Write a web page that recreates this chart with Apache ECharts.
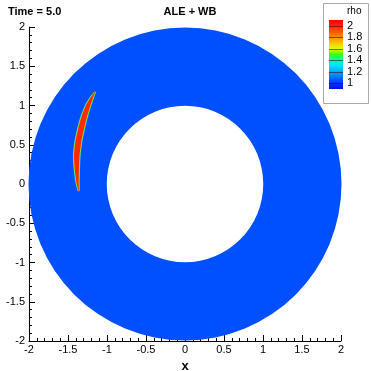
<!DOCTYPE html>
<html><head><meta charset="utf-8">
<script src="https://cdn.jsdelivr.net/npm/echarts@6/dist/echarts.min.js"></script>
<style>html,body{margin:0;padding:0;background:#fff}#c{width:371px;height:371px}</style>
</head><body><div id="c"></div>
<script>
// Domain: annulus [centerX, centerY, outerRadius, innerRadius]
const domain = [[0, 0, 2, 1]];
const domainColor = '#0050ff';
// Shock (density crescent) centreline and half-width
const shockX = [-1.154, -1.20, -1.240, -1.297, -1.342, -1.368, -1.387, -1.387, -1.378, -1.363];
const shockY = [1.172, 1.09, 1.006, 0.841, 0.662, 0.535, 0.369, 0.204, 0.025, -0.089];
const shockHW = [0.003, 0.018, 0.029, 0.036, 0.038, 0.038, 0.036, 0.028, 0.015, 0.003];
// Colour map of rho (value -> colour) and labelled contour levels
const cmapValues = [0.9, 1.0, 1.1, 1.2, 1.3, 1.4, 1.5, 1.6, 1.7, 1.8, 1.9, 2.0, 2.1];
const cmapColors = ['#0010e0', '#0034ff', '#0070ff', '#00a8ff', '#00e0ff', '#00ffb8', '#40ff10', '#d8ff00', '#ffc400', '#ff8c00', '#ff5400', '#ff2400', '#ff0000'];
const labelLevels = [1.0, 1.2, 1.4, 1.6, 1.8, 2.0];
const xTicks = [-2, 2, 0.5];
const yTicks = [-2, 2, 0.5];

const FONT = '"Liberation Sans", Arial, sans-serif';
const chart = echarts.init(document.getElementById('c'), null, {renderer: 'canvas'});

function shockPolygon(api, extra) {
  const left = [], right = [];
  for (let i = 0; i < shockX.length; i++) {
    const hw = shockHW[i] + extra * Math.min(1, shockHW[i] / 0.015 + 0.4);
    left.push(api.coord([shockX[i] - hw, shockY[i]]));
    right.push(api.coord([shockX[i] + hw, shockY[i]]));
  }
  return left.concat(right.reverse());
}

const vMin = cmapValues[0], vMax = cmapValues[cmapValues.length - 1];

const option = {
  animation: false,
  textStyle: {fontFamily: FONT},
  title: [
    {text: 'Time = 5.0', left: 3, top: 1, textStyle: {fontSize: 11, fontWeight: 'bold', fontFamily: FONT, color: '#000'}},
    {text: 'ALE + WB', left: 185, textAlign: 'center', top: 1, textStyle: {fontSize: 11, fontWeight: 'bold', fontFamily: FONT, color: '#000'}}
  ],
  grid: [
    {left: 29, top: 27, width: 312, height: 314, containLabel: false, outerBoundsMode: 'none'},
    {left: 329, top: 20, width: 14, height: 69, containLabel: false, outerBoundsMode: 'none'}
  ],
  xAxis: [
    {type: 'value', gridIndex: 0, min: xTicks[0], max: xTicks[1], interval: xTicks[2],
      name: 'x', nameLocation: 'middle', nameGap: 19,
      nameTextStyle: {fontSize: 13, fontWeight: 'bold', color: '#000', fontFamily: FONT},
      axisLine: {onZero: false, lineStyle: {color: '#000', width: 1}},
      axisTick: {inside: true, length: 6, lineStyle: {color: '#000'}},
      minorTick: {show: true, splitNumber: 5, length: 3, lineStyle: {color: '#000'}},
      axisLabel: {fontSize: 11, color: '#000', margin: 3, fontFamily: FONT},
      splitLine: {show: false}},
    {type: 'value', gridIndex: 1, min: 0, max: 1, show: false}
  ],
  yAxis: [
    {type: 'value', gridIndex: 0, min: yTicks[0], max: yTicks[1], interval: yTicks[2],
      name: 'y', nameLocation: 'middle', nameGap: 20, nameRotate: 90,
      nameTextStyle: {fontSize: 13, fontWeight: 'bold', color: '#000', fontFamily: FONT},
      axisLine: {onZero: false, lineStyle: {color: '#000', width: 1}},
      axisTick: {inside: true, length: 6, lineStyle: {color: '#000'}},
      minorTick: {show: true, splitNumber: 5, length: 3, lineStyle: {color: '#000'}},
      axisLabel: {fontSize: 11, color: '#000', margin: 4, fontFamily: FONT},
      splitLine: {show: false}},
    {type: 'value', gridIndex: 1, min: vMin, max: vMax, interval: 0.1, position: 'right',
      axisLine: {show: false, onZero: false}, axisTick: {show: false},
      axisLabel: {fontSize: 11, color: '#000', margin: 4, fontFamily: FONT,
        formatter: function (v) {
          const k = Math.round(v * 10);
          for (const l of labelLevels) if (Math.round(l * 10) === k) return String(l);
          return '';
        }},
      splitLine: {show: false}}
  ],
  graphic: [
    {type: 'rect', shape: {x: 323.5, y: 3.5, width: 45, height: 100}, style: {fill: '#fff', stroke: '#aaa', lineWidth: 1}, z: -1},
    {type: 'text', x: 347, y: 6, style: {text: 'rho', fontSize: 10, fontFamily: FONT, fill: '#000'}}
  ],
  series: [
    {type: 'custom', xAxisIndex: 0, yAxisIndex: 0, data: domain, clip: false,
      renderItem: function (params, api) {
        const c = api.coord([api.value(0), api.value(1)]);
        const r = api.size([api.value(2), api.value(2)]);
        const r0 = api.size([api.value(3), api.value(3)]);
        return {type: 'ring', shape: {cx: c[0], cy: c[1], r: (r[0] + r[1]) / 2, r0: (r0[0] + r0[1]) / 2},
          style: {fill: domainColor}};
      }},
    {type: 'custom', xAxisIndex: 0, yAxisIndex: 0, data: [[0]], z: 3,
      renderItem: function (params, api) {
        return {type: 'group', children: [
          {type: 'polygon', shape: {points: shockPolygon(api, 0.014), smooth: 0.2}, style: {fill: '#10d8e0'}},
          {type: 'polygon', shape: {points: shockPolygon(api, 0.007), smooth: 0.2}, style: {fill: '#b0e800'}},
          {type: 'polygon', shape: {points: shockPolygon(api, 0), smooth: 0.2}, style: {fill: '#ff2a00'}}
        ]};
      }},
    // colour bar: gradient rect with stops from the colour map
    {type: 'custom', xAxisIndex: 1, yAxisIndex: 1, data: [[0]], z: 5,
      renderItem: function (params, api) {
        const pTop = api.coord([0, vMax]);
        const pBot = api.coord([1, vMin]);
        const stops = cmapValues.map((v, i) => ({offset: (vMax - v) / (vMax - vMin), color: cmapColors[i]})).reverse();
        const children = [
          {type: 'rect', shape: {x: pTop[0], y: pTop[1], width: pBot[0] - pTop[0], height: pBot[1] - pTop[1]},
            style: {fill: new echarts.graphic.LinearGradient(0, 0, 0, 1, stops)}}
        ];
        labelLevels.forEach(function (l) {
          const y = Math.round(api.coord([0, l])[1]) + 0.5;
          children.push({type: 'line', shape: {x1: pTop[0], y1: y, x2: pBot[0], y2: y},
            style: {stroke: 'rgba(60,0,0,0.55)', lineWidth: 1}});
        });
        return {type: 'group', children: children};
      }}
  ]
};
chart.setOption(option);
</script></body></html>
